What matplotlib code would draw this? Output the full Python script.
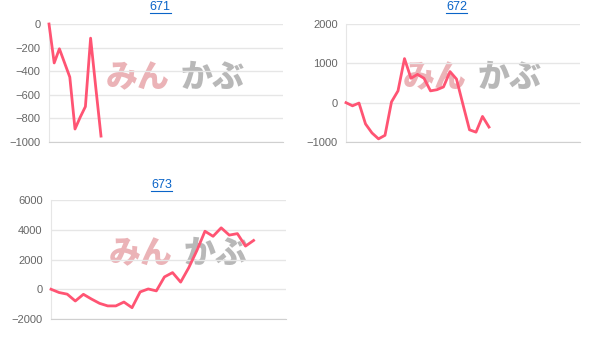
import matplotlib
matplotlib.use('Agg')
import matplotlib.pyplot as plt
from matplotlib.lines import Line2D
from matplotlib.ticker import MultipleLocator

titles = ['671', '672', '673']

# slots on the (hidden) x axis for each chart
slots = [46, 37, 30]

values_671 = [0, -330, -210, -330, -450, -890, -790, -700, -120, -540, -950]
values_672 = [0, -80, -10, -540, -770, -920, -830, 20, 300, 1120, 620, 720, 620,
              300, 330, 400, 790, 600, -50, -690, -750, -350, -620]
values_673 = [0, -220, -330, -790, -340, -660, -950, -1120, -1120, -860, -1240,
              -180, 20, -110, 830, 1120, 480, 1450, 2600, 3900, 3560, 4130, 3640,
              3740, 2900, 3280]

ylims = [(-1000, 0), (-1000, 2000), (-2000, 6000)]
ysteps = [200, 1000, 2000]

W, H = 608, 343
fig = plt.figure(figsize=(W / 100, H / 100), dpi=100)
plt.rcParams['font.family'] = ['Liberation Sans', 'DejaVu Sans']

# axes boxes in pixels: left, top, right, bottom
boxes = [(49, 24, 283, 142), (346, 24, 580, 142), (51, 200, 286, 319)]
title_pos = [(160, 7.5), (456.7, 7.5), (161.7, 185)]

line_color = '#ff5473'
grid_color = '#e6e6e6'

series = [values_671, values_672, values_673]
title_texts = []
for i in range(3):
    l, t, r, b = boxes[i]
    ax = fig.add_axes([l / W, 1 - b / H, (r - l) / W, (b - t) / H])
    ax.set_xlim(0, slots[i] - 1)
    ax.set_ylim(*ylims[i])
    ax.yaxis.set_major_locator(MultipleLocator(ysteps[i]))
    ax.grid(axis='y', color=grid_color, linewidth=1)
    ax.set_axisbelow(True)
    ax.set_xticks([])
    ax.tick_params(axis='y', length=0, labelsize=8, labelcolor='#666666', pad=6)
    for s in ['top', 'right']:
        ax.spines[s].set_visible(False)
    ax.spines['left'].set_color(grid_color)
    ax.spines['bottom'].set_color('#d0d0d0')
    ax.set_facecolor('none')

    # watermark
    ax.text(0.38, 0.55, 'みん', transform=ax.transAxes, ha='center', va='center',
            fontsize=23, fontweight='heavy', color='#ebb3b7',
            family=['Noto Sans CJK JP', 'DejaVu Sans'], zorder=0)
    ax.text(0.70, 0.55, 'かぶ', transform=ax.transAxes, ha='center', va='center',
            fontsize=23, fontweight='heavy', color='#b8b8b8',
            family=['Noto Sans CJK JP', 'DejaVu Sans'], zorder=0)

    vals = series[i]
    ax.plot(range(len(vals)), vals, color=line_color, linewidth=2, zorder=3,
            clip_on=False, solid_joinstyle='round')

    tx, ty = title_pos[i]
    txt = fig.text(tx / W, 1 - ty / H, titles[i], ha='center', va='center',
                   fontsize=9, color='#0a64c8')
    title_texts.append(txt)

# underline the titles like links
fig.canvas.draw()
renderer = fig.canvas.get_renderer()
for txt in title_texts:
    bb = txt.get_window_extent(renderer)
    y = (bb.y0 + 0.5) / H
    fig.add_artist(Line2D([bb.x0 / W, bb.x1 / W], [y, y], color='#0a64c8',
                          linewidth=0.8))

fig.savefig('out.png', dpi=100)
